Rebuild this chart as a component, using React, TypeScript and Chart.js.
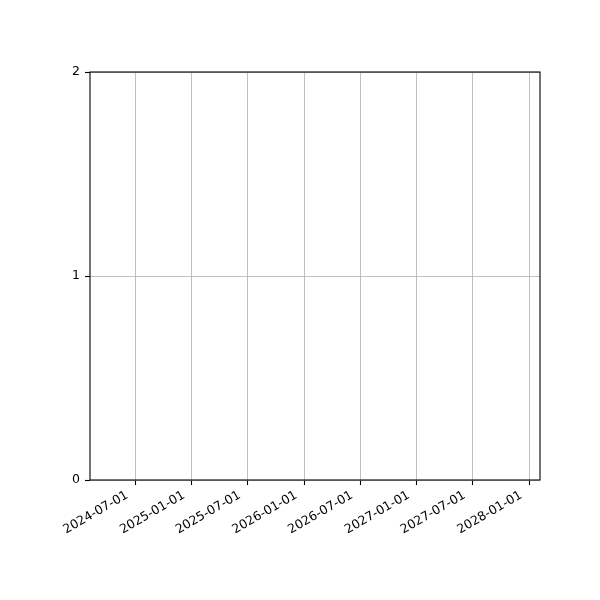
import { useEffect, useRef } from 'react';
import { Chart, registerables } from 'chart.js';

Chart.register(...registerables);

// axis range and tick dates (days computed from the ISO strings)
const xRange = ['2024-02-05', '2028-02-05'];
const xTickLabels = [
  '2024-07-01',
  '2025-01-01',
  '2025-07-01',
  '2026-01-01',
  '2026-07-01',
  '2027-01-01',
  '2027-07-01',
  '2028-01-01',
];
const yTicks = [0, 1, 2];
const seriesPoints: { x: number; y: number }[] = [];

const toDay = (s: string) => Date.parse(s + 'T00:00:00Z') / 86400000;

const frame = {
  id: 'frame',
  afterDraw(chart: Chart) {
    const { ctx, chartArea } = chart;
    ctx.save();
    ctx.strokeStyle = '#000';
    ctx.lineWidth = 1.1;
    ctx.strokeRect(chartArea.left, chartArea.top, chartArea.right - chartArea.left, chartArea.bottom - chartArea.top);
    ctx.restore();
  },
};

export default function App() {
  const chartRef = useRef<HTMLCanvasElement>(null);

  useEffect(() => {
    if (!chartRef.current) return;
    document.body.style.margin = '0';

    const chart = new Chart(chartRef.current, {
      type: 'scatter',
      data: {
        datasets: [{ data: seriesPoints, showLine: false }],
      },
      options: {
        animation: false,
        responsive: true,
        maintainAspectRatio: false,
        layout: { padding: { left: 0, top: 72, right: 60, bottom: 0 } },
        plugins: { legend: { display: false }, tooltip: { enabled: false } },
        scales: {
          x: {
            type: 'linear',
            min: toDay(xRange[0]),
            max: toDay(xRange[1]),
            afterBuildTicks: (scale: any) => {
              scale.ticks = xTickLabels.map((d) => ({ value: toDay(d) }));
            },
            afterFit: (scale: any) => {
              scale.height = 120;
              scale.paddingLeft = 0;
              scale.paddingRight = 0;
            },
            grid: { color: '#b0b0b0', lineWidth: 0.8, tickColor: '#000', tickLength: 5, tickWidth: 1.1 },
            border: { display: false },
            ticks: {
              autoSkip: false,
              minRotation: 30,
              maxRotation: 30,
              padding: 3,
              labelOffset: -8,
              color: '#000',
              font: { family: 'DejaVu Sans', size: 12.5 },
              callback: (_v: any, i: number) => xTickLabels[i],
            },
          },
          y: {
            min: yTicks[0],
            max: yTicks[yTicks.length - 1],
            afterBuildTicks: (scale: any) => {
              scale.ticks = yTicks.map((v) => ({ value: v }));
            },
            afterFit: (scale: any) => {
              scale.width = 90;
              scale.paddingTop = 0;
              scale.paddingBottom = 0;
            },
            grid: { color: '#b0b0b0', lineWidth: 0.8, tickColor: '#000', tickLength: 5, tickWidth: 1.1 },
            border: { display: false },
            ticks: {
              padding: 5,
              color: '#000',
              font: { family: 'DejaVu Sans', size: 12.5 },
            },
          },
        },
      } as any,
      plugins: [frame],
    });

    return () => chart.destroy();
  }, []);

  return (
    <div style={{ position: 'relative', width: 600, height: 600, background: '#fff' }}>
      <canvas ref={chartRef} />
    </div>
  );
}
